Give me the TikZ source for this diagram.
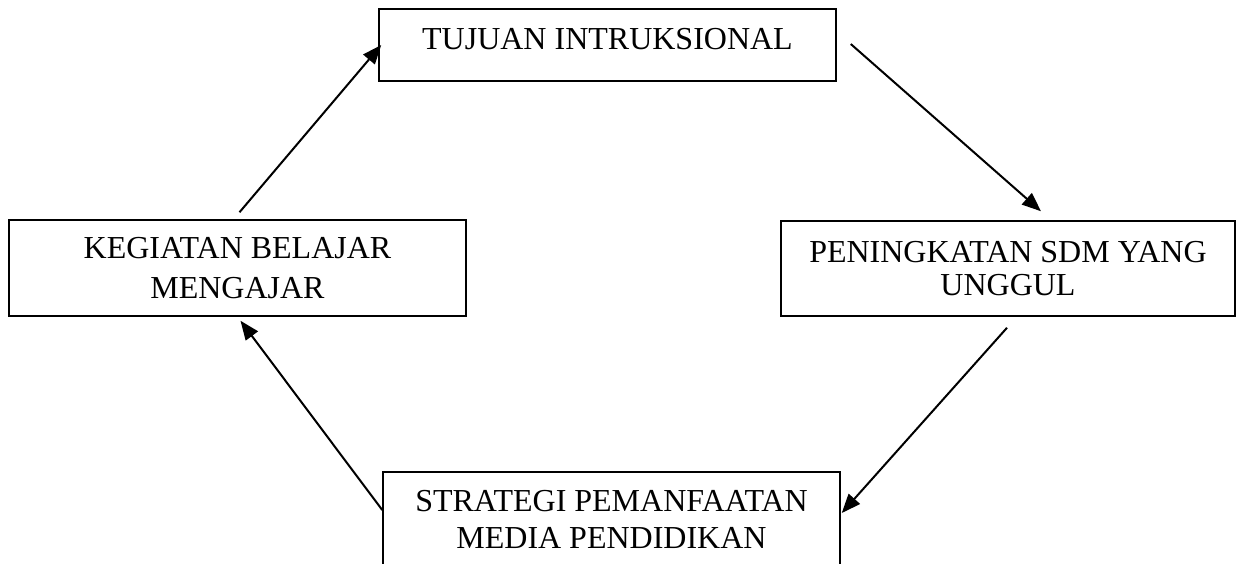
\documentclass[tikz,border=0pt]{standalone}
\usepackage{fontspec}
\setmainfont{Liberation Serif}
\usetikzlibrary{arrows.meta,calc}
\tikzset{
  stagebox/.style={
    draw=black,
    line width=.75pt,
    align=center,
    inner sep=0pt,
    minimum width=228.5pt,
    font=\fontsize{16}{18.5}\selectfont
  },
  flow/.style={-{Triangle[length=9.5pt,width=7.5pt]},line width=1pt,draw=black}
}

\begin{document}
\begin{tikzpicture}[x=.5pt,y=-.5pt]
  % Page frame in pixel units; the lower box runs past the bottom edge.
  \useasboundingbox (0,0) rectangle (1238,563);

  \node[stagebox,minimum height=36pt,text depth=6pt] (tujuan) at (607.5,45)
    {TUJUAN INTRUKSIONAL};
  \node[stagebox,minimum height=48pt] (kbm) at (237.5,268)
    {KEGIATAN BELAJAR\\[1.5pt]MENGAJAR};
  \node[stagebox,minimum height=47.5pt,minimum width=227pt] (sdm) at (1008,268.5)
    {PENINGKATAN SDM YANG\\[-2pt]UNGGUL};
  \node[stagebox,minimum height=47pt] (strategi) at (611.5,519)
    {STRATEGI PEMANFAATAN\\MEDIA PENDIDIKAN};

  \draw[flow] ($(kbm.north)+(2,-7)$) -- ($(tujuan.west)+(3,0)$);
  \draw[flow] ($(tujuan.east)+(14,-1)$) -- ($(sdm.north)+(33,-9)$);
  \draw[flow] ($(sdm.south)+(-1,11)$) -- ($(strategi.east)+(1,-6)$);
  \draw[flow] ($(strategi.west)+(0,-9)$) -- ($(kbm.south)+(3,4)$);
\end{tikzpicture}
\end{document}
